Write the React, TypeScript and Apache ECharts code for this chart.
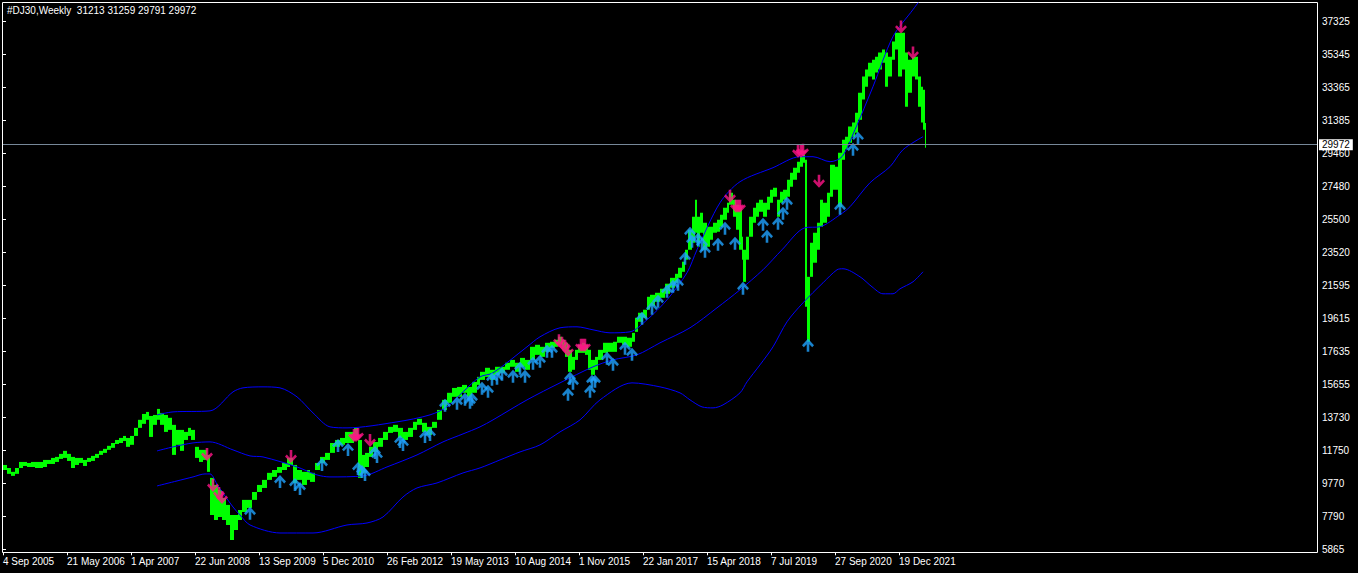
import { useEffect, useRef } from 'react'
import * as echarts from 'echarts'

// weekly DJ30 chart, MetaTrader look

const symbolName = '#DJ30'
const periodName = 'Weekly'
const lastOhlc = [31213, 31259, 29791, 29972]

// bar index of each label (one every 64 bars)
const xLabels = [
  '4 Sep 2005', '21 May 2006', '1 Apr 2007', '22 Jun 2008', '13 Sep 2009',
  '5 Dec 2010', '26 Feb 2012', '19 May 2013', '10 Aug 2014', '1 Nov 2015',
  '22 Jan 2017', '15 Apr 2018', '7 Jul 2019', '27 Sep 2020', '19 Dec 2021',
]
const BARS_PER_LABEL = 64

const yLabels = [
  '5865', '7790', '9770', '11750', '13730', '15655', '17635', '19615', '21595',
  '23520', '25500', '27480', '29460', '31385', '33365', '35345', '37325',
]

// [bar index, low, high] – grouped weekly bars
const priceBars = [
  [0, 10590, 10890], [4, 10360, 10710], [8, 10240, 10480], [12, 10360, 10710],
  [16, 10710, 11070], [20, 10830, 11070], [24, 10770, 11010], [28, 10770, 11070],
  [32, 10710, 11070], [36, 10710, 11070], [40, 10770, 11190], [44, 10950, 11190],
  [48, 10950, 11310], [52, 11070, 11370], [56, 11250, 11550], [60, 11310, 11730],
  [64, 11130, 11550], [68, 10710, 11370], [72, 10890, 11310], [76, 11010, 11310],
  [80, 10830, 11190], [84, 11070, 11310], [88, 11130, 11430], [92, 11310, 11550],
  [96, 11490, 11730], [100, 11610, 11850], [104, 11790, 12030], [108, 11910, 12200],
  [112, 12140, 12380], [116, 12200, 12500], [120, 12320, 12620], [123, 11970, 12500],
  [127, 12090, 12620], [131, 12620, 13100], [135, 13100, 13580], [139, 13340, 13930],
  [143, 13580, 14050], [146, 12560, 13810], [150, 13280, 13870], [154, 13580, 14230],
  [157, 13280, 13990], [161, 12860, 13870], [165, 12980, 13700], [169, 11490, 13280],
  [173, 12090, 12980], [177, 11730, 12980], [181, 12380, 12860], [185, 12620, 13100],
  [188, 12380, 12980], [192, 11310, 11970], [196, 11070, 11790], [200, 11190, 11790],
  [204, 10480, 11490], [207, 7910, 10120], [211, 7610, 9700], [215, 7790, 9400],
  [219, 7610, 8920], [223, 7310, 8510], [227, 6420, 7910], [231, 7020, 7910],
  [235, 7610, 8210], [239, 8090, 8810], [244, 8330, 8810], [249, 8810, 9280],
  [254, 9280, 9700], [259, 9520, 10000], [264, 10000, 10420], [269, 10180, 10590],
  [274, 10420, 10770], [279, 10590, 11010], [284, 10770, 11310], [287, 10890, 11310],
  [290, 9820, 10890], [294, 10000, 10590], [299, 9700, 10480], [304, 10000, 10590],
  [307, 9880, 10420], [312, 10590, 11010], [317, 11010, 11370], [322, 11190, 11610],
  [327, 11610, 12200], [332, 11970, 12380], [337, 12090, 12500], [342, 12200, 12860],
  [347, 12200, 12860], [351, 12380, 13100], [355, 10120, 12380], [359, 10420, 11490],
  [362, 10770, 11610], [366, 11370, 11970], [370, 11670, 12260], [375, 11970, 12500],
  [380, 12380, 12860], [385, 12800, 13160], [390, 12860, 13280], [395, 12500, 13100],
  [400, 12380, 12860], [405, 12560, 13100], [410, 12980, 13460], [414, 13280, 13640],
  [419, 12860, 13400], [424, 12680, 13160], [429, 13100, 13460], [434, 13580, 14170],
  [439, 14170, 14770], [444, 14590, 15190], [449, 14950, 15480], [454, 14950, 15540],
  [459, 15190, 15660], [464, 14950, 15540], [469, 15190, 15840], [474, 15660, 16140],
  [477, 15960, 16440], [482, 16140, 16680], [487, 15960, 16560], [492, 16260, 16740],
  [497, 16380, 16740], [502, 16560, 16980], [507, 16740, 17150], [512, 16440, 16980],
  [517, 16740, 17270], [522, 16560, 17150], [527, 17150, 17930], [532, 17450, 18050],
  [537, 17330, 17930], [542, 17630, 18170], [547, 17870, 18230], [552, 17930, 18350],
  [555, 18050, 18530], [559, 17750, 18350], [562, 17330, 18170], [565, 16440, 17750],
  [569, 16560, 17330], [572, 17150, 17750], [575, 17570, 18050], [579, 17570, 18170],
  [582, 17450, 18050], [585, 16560, 17750], [588, 16260, 17150], [592, 16560, 17330],
  [595, 17150, 17750], [600, 17570, 18170], [605, 17630, 18170], [610, 17630, 18230],
  [614, 18170, 18530], [619, 18050, 18530], [624, 17930, 18470], [629, 18230, 18760],
  [632, 18820, 19660], [635, 19420, 19960], [640, 19660, 20140], [644, 20140, 20910],
  [647, 20370, 21030], [652, 20610, 21150], [657, 20850, 21390], [662, 21090, 21690],
  [667, 21450, 22040], [672, 21750, 22280], [675, 22040, 22640], [679, 22400, 23000],
  [682, 23120, 23710], [685, 23710, 24910], [689, 24130, 25680], [692, 24730, 26690],
  [694, 23890, 25680], [697, 24730, 25920], [700, 23710, 25320], [704, 23890, 25080],
  [707, 24310, 25080], [710, 24730, 25320], [714, 24790, 25500], [717, 25080, 25800],
  [720, 25500, 26220], [724, 25920, 26520], [726, 26400, 27110], [730, 25680, 26690],
  [733, 24910, 26400], [736, 23710, 26220], [739, 23120, 24490], [740, 21800, 23710],
  [743, 23120, 24490], [746, 24490, 25680], [750, 25320, 26220], [753, 25680, 26520],
  [756, 25980, 26690], [760, 25680, 26520], [764, 26100, 26870], [767, 26520, 27290],
  [770, 26870, 27410], [774, 25680, 26690], [777, 26520, 27170], [780, 26690, 27290],
  [784, 26870, 27890], [787, 27470, 28300], [790, 27890, 28600], [794, 28300, 28960],
  [797, 28660, 29260], [800, 28900, 29380], [802, 20310, 29080], [804, 18230, 22100],
  [807, 22100, 24130], [810, 22940, 24730], [814, 23710, 25320], [817, 25080, 26690],
  [820, 25320, 26520], [824, 25680, 27110], [827, 26870, 28780], [830, 27290, 28780],
  [832, 27290, 28660], [835, 26280, 29500], [839, 29080, 30270], [842, 29680, 30450],
  [845, 30090, 31050], [849, 30450, 31290], [852, 30690, 31880], [855, 31460, 33070],
  [859, 32660, 34030], [862, 33430, 34450], [865, 34030, 34860], [869, 33850, 35040],
  [872, 34270, 35220], [875, 34450, 35460], [879, 34860, 35640], [882, 33430, 35460],
  [885, 34030, 35220], [889, 35040, 36120], [892, 35640, 36650], [895, 34030, 36650],
  [899, 34450, 36650], [902, 32240, 35460], [905, 33070, 35040], [909, 34030, 35220],
  [912, 33850, 35220], [915, 32240, 34030], [918, 31290, 33430], [920, 30870, 33250],
  [922, 29791, 31259],
]

// bollinger-style envelope, [bar index, price]
const upperBand = [
  [154, 13874], [170, 14052], [207, 14112], [230, 15245], [240, 15484], [260, 15543],
  [277, 15484], [294, 14947], [310, 13993], [327, 13159], [344, 13099], [394, 13457],
  [427, 13874], [444, 14350], [460, 15245], [477, 16140], [490, 16378], [524, 17929],
  [537, 18525], [557, 19062], [574, 19121], [590, 18942], [607, 18763], [627, 18823],
  [644, 19538], [664, 20731], [684, 22341], [694, 23712], [717, 26515], [737, 27767],
  [770, 28602], [797, 29258], [810, 29258], [827, 28960], [839, 29258], [852, 30868],
  [870, 33432], [890, 36414], [910, 38024], [922, 38978],
]
const middleBand = [
  [154, 11727], [170, 11966], [190, 12204], [207, 12264], [230, 11787], [247, 11429],
  [260, 11369], [294, 10773], [314, 10296], [327, 10177], [360, 10236], [384, 10773],
  [414, 11488], [440, 12264], [460, 12741], [477, 13159], [490, 13576], [524, 14768],
  [557, 15782], [590, 16737], [610, 17154], [634, 17452], [657, 18167], [687, 19062],
  [714, 20254], [737, 21327], [760, 22520], [779, 23712], [802, 25024], [817, 25084],
  [837, 25800], [847, 26277], [867, 27708], [887, 28662], [900, 29676], [920, 30450],
]
const lowerBand = [
  [154, 9640], [174, 9938], [190, 10177], [202, 10356], [207, 10356], [215, 9640],
  [230, 8387], [237, 7910], [247, 7314], [277, 6837], [310, 6837], [344, 7314],
  [364, 7433], [380, 7791], [400, 8984], [414, 9521], [434, 9819], [460, 10415],
  [477, 10713], [497, 11190], [517, 11667], [537, 12085], [557, 12860], [577, 13576],
  [597, 14768], [629, 15782], [657, 15543], [677, 15186], [687, 14768], [699, 14350],
  [710, 14291], [720, 14469], [737, 15186], [744, 15842], [757, 16855], [770, 17929],
  [784, 19419], [800, 20552], [820, 21745], [834, 22520], [840, 22580], [857, 22103],
  [869, 21506], [880, 21089], [890, 21089], [897, 21387], [910, 21805], [920, 22401],
]

// signal arrows, [bar index, price at arrow tip]
const buySignals = [
  [247, 8400], [277, 10296], [292, 10117], [297, 9879], [319, 11309], [335, 12442],
  [345, 12204], [355, 11071], [359, 10892], [362, 10713], [372, 12025], [374, 11787],
  [397, 12681], [400, 12502], [422, 12979], [427, 13099], [442, 14828], [454, 14947],
  [462, 15186], [467, 15007], [469, 15186], [479, 15842], [485, 15662], [489, 16378],
  [494, 16438], [499, 16677], [510, 16557], [517, 17035], [522, 16557], [530, 17333],
  [537, 17452], [544, 18048], [549, 18048], [565, 15484], [567, 16438], [570, 16140],
  [587, 15662], [589, 16259], [592, 16259], [604, 17631], [610, 17273], [622, 18227],
  [629, 17869], [639, 20016], [649, 20612], [655, 21029], [664, 21625], [670, 21924],
  [675, 22043], [682, 23593], [687, 25084], [689, 24607], [695, 24726], [699, 24428],
  [702, 24011], [715, 24428], [722, 25382], [732, 24488], [740, 21805], [760, 25620],
  [764, 24905], [775, 25680], [780, 26277], [784, 26873], [805, 18406], [837, 26575],
  [850, 30093], [855, 30749],
]
const sellSignals = [
  [204, 11131], [210, 9282], [216, 8805], [219, 8566], [288, 11011], [351, 12264],
  [353, 12264], [355, 12323], [367, 11966], [556, 17900], [559, 17750], [562, 17570],
  [565, 17333], [578, 17631], [580, 17631], [582, 17631], [727, 26515], [733, 25919],
  [735, 25919], [737, 25919], [795, 29199], [798, 29199], [800, 29258], [816, 27410],
  [898, 36592], [910, 35042],
]

const FONT = 'Liberation Sans, Arial, sans-serif'
const Y_MIN = 5865
const Y_STEP = (37325 - 5865) / 16
const PX_PER_STEP = 33
const GRID_TOP = 3
const GRID_H = 546.3
const Y_MAX = Y_MIN + (GRID_H * Y_STEP) / PX_PER_STEP

const UP_ARROW = 'path://M6,0 L12,6 L10.2,7.8 L7.3,4.9 L7.3,12 L4.7,12 L4.7,4.9 L1.8,7.8 L0,6 Z'
const DOWN_ARROW = 'path://M6,12 L0,6 L1.8,4.2 L4.7,7.1 L4.7,0 L7.3,0 L7.3,7.1 L10.2,4.2 L12,6 Z'

export default function App() {
  const chartRef = useRef<HTMLDivElement>(null)

  useEffect(() => {
    if (!chartRef.current) return
    const chart = echarts.init(chartRef.current, null, { renderer: 'svg' })

    const xTicks = xLabels.map((_, i) => i * BARS_PER_LABEL)
    const yTicks = yLabels.map((_, i) => Y_MIN + i * Y_STEP)
    const lastClose = lastOhlc[3]

    const bandSeries = (data: number[][]) => ({
      type: 'line',
      data,
      symbol: 'none',
      smooth: 0.3,
      clip: true,
      silent: true,
      z: 3,
      lineStyle: { color: '#0000ff', width: 1 },
    })

    chart.setOption({
      animation: false,
      backgroundColor: '#000',
      grid: { left: 3, top: GRID_TOP, width: 1314, height: GRID_H },
      graphic: [
        {
          type: 'rect',
          silent: true,
          shape: { x: 2.5, y: 2.5, width: 1315, height: 550 },
          style: { fill: 'none', stroke: '#fff', lineWidth: 1 },
        },
        {
          type: 'text',
          silent: true,
          x: 7,
          y: 10,
          style: {
            text: `${symbolName},${periodName}\u00a0 ${lastOhlc.join(' ')}`,
            fill: '#fff',
            font: `10px ${FONT}`,
            verticalAlign: 'middle',
          },
        },
      ],
      xAxis: {
        type: 'value',
        min: 0,
        max: 1314,
        offset: 3,
        axisLine: { show: false },
        axisTick: { show: true, length: 3, customValues: xTicks, lineStyle: { color: '#fff' } },
        axisLabel: {
          customValues: xTicks,
          formatter: (v: number) => xLabels[Math.round(v / BARS_PER_LABEL)] ?? '',
          color: '#fff',
          align: 'left',
          margin: 4,
          fontSize: 10,
          fontFamily: FONT,
        },
        splitLine: { show: false },
      },
      yAxis: {
        type: 'value',
        position: 'right',
        min: Y_MIN,
        max: Y_MAX,
        axisLine: { show: false },
        axisTick: { show: true, length: 3, customValues: yTicks, lineStyle: { color: '#fff' } },
        axisLabel: {
          customValues: yTicks,
          formatter: (v: number) => yLabels[Math.round((v - Y_MIN) / Y_STEP)] ?? '',
          color: '#fff',
          margin: 5,
          fontSize: 10,
          fontFamily: FONT,
        },
        splitLine: { show: false },
      },
      series: [
        {
          type: 'custom',
          silent: true,
          clip: true,
          z: 2,
          data: priceBars,
          encode: { x: 0, y: [1, 2] },
          renderItem: (params: any, api: any) => {
            const i = params.dataIndex
            const bar = api.value(0)
            const next = i + 1 < priceBars.length ? priceBars[i + 1][0] : bar + 1
            const top = api.coord([bar, api.value(2)])
            const bottom = api.coord([next, api.value(1)])
            return {
              type: 'rect',
              shape: {
                x: top[0],
                y: top[1],
                width: Math.max(1, bottom[0] - top[0]),
                height: Math.max(1, bottom[1] - top[1]),
              },
              style: { fill: '#00ff00' },
            }
          },
          markLine: {
            silent: true,
            symbol: ['none', 'none'],
            data: [{ yAxis: lastClose }],
            lineStyle: { color: '#778899', width: 1, type: 'solid' },
            label: {
              show: true,
              position: 'end',
              formatter: String(lastClose),
              color: '#000',
              backgroundColor: '#fff',
              padding: [1, 3, 0, 3],
              distance: 2,
              fontSize: 10,
              fontFamily: FONT,
            },
          },
        },
        bandSeries(upperBand),
        bandSeries(middleBand),
        bandSeries(lowerBand),
        {
          type: 'scatter',
          silent: true,
          z: 4,
          data: buySignals,
          symbol: UP_ARROW,
          symbolSize: [12, 13],
          symbolOffset: [0, 6.5],
          itemStyle: { color: '#1fa2ff' },
        },
        {
          type: 'scatter',
          silent: true,
          z: 4,
          data: sellSignals,
          symbol: DOWN_ARROW,
          symbolSize: [12, 13],
          symbolOffset: [0, -6.5],
          itemStyle: { color: '#ff1487' },
        },
      ],
    })

    return () => {
      chart.dispose()
    }
  }, [])

  return (
    <div
      ref={chartRef}
      style={{ position: 'fixed', left: 0, top: 0, width: 1358, height: 573, background: '#000' }}
    />
  )
}
